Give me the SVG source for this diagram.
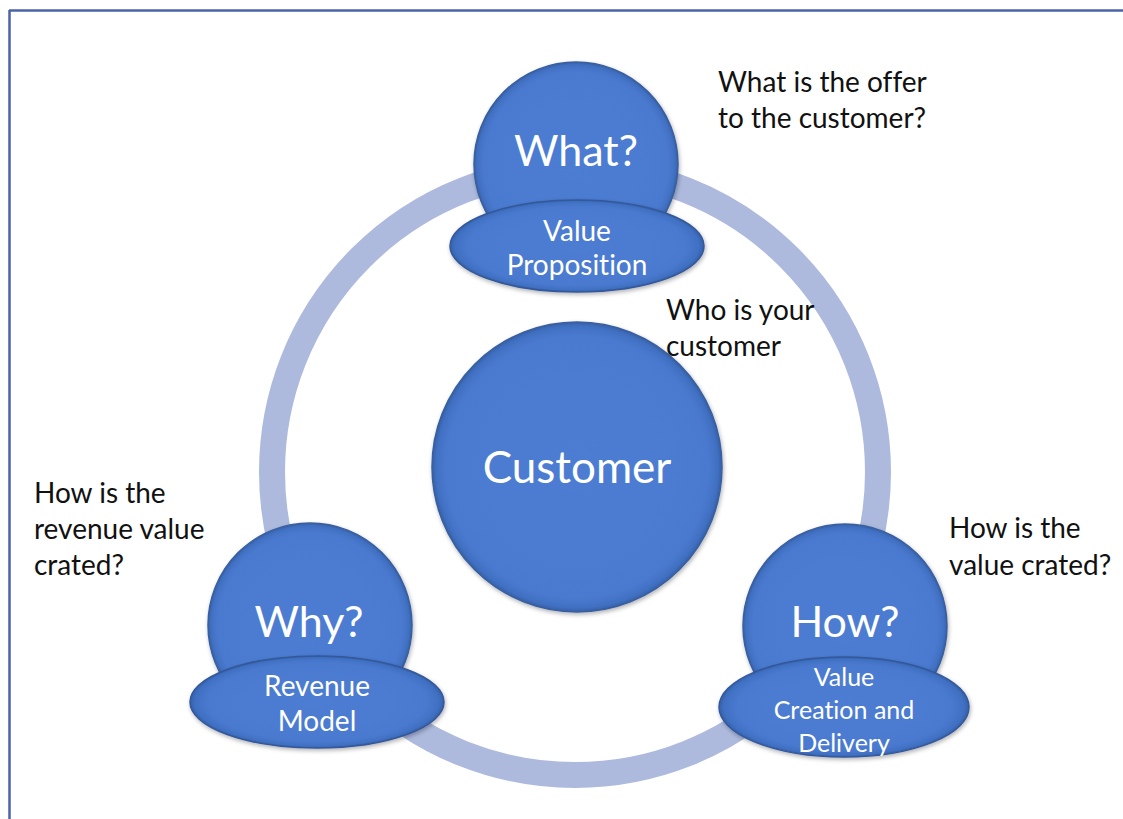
<svg xmlns="http://www.w3.org/2000/svg" width="1123" height="819" viewBox="0 0 1123 819">
<style>
text{font-family:Lato,"Open Sans",sans-serif;font-variant-ligatures:none}
.ball{fill:url(#gBall);stroke:#3a5f9e;stroke-width:1.5;filter:url(#sh)}
.ell{fill:url(#gEll);stroke:#34589a;stroke-width:1.5;filter:url(#sh)}
.big{fill:#ffffff;text-anchor:middle;font-size:43px}
.cust{font-size:44px}
.sm{fill:#ffffff;text-anchor:middle;font-size:28px}
.sm3{fill:#ffffff;text-anchor:middle;font-size:25px}
.note{fill:#111111;font-size:28px}
</style>
<defs>
<radialGradient id="gBall" cx="0.5" cy="0.5" r="0.5">
<stop offset="0" stop-color="#4d7dd3"/>
<stop offset="0.9" stop-color="#4a7ad0"/>
<stop offset="0.97" stop-color="#4170c2"/>
<stop offset="1" stop-color="#3560a8"/>
</radialGradient>
<radialGradient id="gEll" cx="0.5" cy="0.5" r="0.5">
<stop offset="0" stop-color="#4d7dd3"/>
<stop offset="0.85" stop-color="#4a7ad0"/>
<stop offset="0.96" stop-color="#4070c2"/>
<stop offset="1" stop-color="#3560a8"/>
</radialGradient>
<filter id="sh" x="-10%" y="-10%" width="120%" height="125%">
<feDropShadow dx="1" dy="2" stdDeviation="2" flood-color="#000" flood-opacity="0.3"/>
</filter>
</defs>
<rect width="1123" height="819" fill="#ffffff"/>
<g id="frame" stroke="#4a62a8" stroke-width="2.5" fill="none">
<line x1="9" y1="10.5" x2="1123" y2="10.5"/>
<line x1="9.5" y1="10" x2="9.5" y2="819"/>
</g>
<g id="connectors">
<circle cx="575" cy="472" r="303" fill="none" stroke="#adbadd" stroke-width="26"/>
</g>
<g id="customer">
<circle class="ball" cx="577" cy="467" r="145"/>
<text class="big cust" x="577" y="483">Customer</text>
</g>
<g id="what">
<circle class="ball" cx="576" cy="164" r="102"/>
<text class="big" x="576" y="166">What?</text>
<ellipse class="ell" cx="577" cy="246" rx="127" ry="46"/>
<text class="sm" x="577" y="241">Value</text>
<text class="sm" x="577" y="275">Proposition</text>
</g>
<g id="why">
<circle class="ball" cx="310" cy="625" r="102"/>
<text class="big" x="309" y="637">Why?</text>
<ellipse class="ell" cx="317" cy="702" rx="127" ry="46"/>
<text class="sm" x="317" y="696">Revenue</text>
<text class="sm" x="317" y="731">Model</text>
</g>
<g id="how">
<circle class="ball" cx="845" cy="626" r="102"/>
<text class="big" x="845" y="637">How?</text>
<ellipse class="ell" cx="844" cy="707" rx="125" ry="50"/>
<text class="sm3" x="844" y="686">Value</text>
<text class="sm3" x="844" y="719">Creation and</text>
<text class="sm3" x="844" y="752">Delivery</text>
</g>
<g id="notes">
<text class="note" x="718" y="92">What is the offer</text>
<text class="note" x="718" y="128">to the customer?</text>
<text class="note" x="666" y="320">Who is your</text>
<text class="note" x="666" y="356">customer</text>
<text class="note" x="34" y="503">How is the</text>
<text class="note" x="34" y="539">revenue value</text>
<text class="note" x="34" y="575">crated?</text>
<text class="note" x="949" y="538">How is the</text>
<text class="note" x="949" y="575">value crated?</text>
</g>
</svg>
